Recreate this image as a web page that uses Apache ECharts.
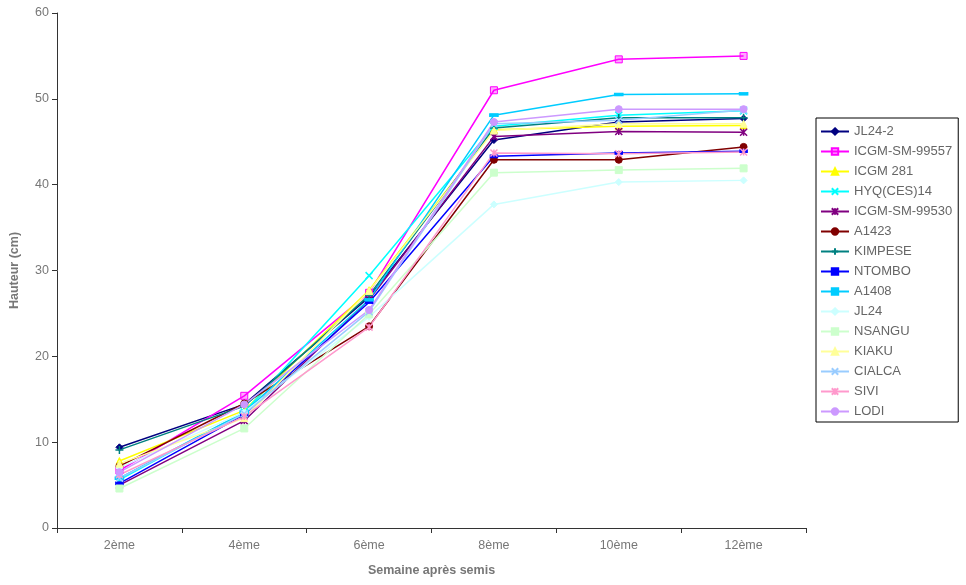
<!DOCTYPE html>
<html>
<head>
<meta charset="utf-8">
<script src="https://cdn.jsdelivr.net/npm/echarts@6/dist/echarts.min.js"></script>
<style>html,body{margin:0;padding:0;background:#fff}#c{width:966px;height:585px}</style>
</head>
<body>
<div id="c"></div>
<script>
const categories = ['2ème','4ème','6ème','8ème','10ème','12ème'];
const seriesNames = ['JL24-2','ICGM-SM-99557','ICGM 281','HYQ(CES)14','ICGM-SM-99530','A1423','KIMPESE','NTOMBO','A1408','JL24','NSANGU','KIAKU','CIALCA','SIVI','LODI'];
const JL24_2 = [9.4, 14.4, 26.9, 45.2, 47.3, 47.7];
const ICGM_SM_99557 = [6.7, 15.4, 27.4, 51.0, 54.6, 55.0];
const ICGM_281 = [7.8, 13.7, 27.7, 46.4, 46.8, 46.9];
const HYQ_CES_14 = [5.6, 13.5, 29.4, 46.8, 48.1, 48.6];
const ICGM_SM_99530 = [5.0, 12.5, 26.6, 45.6, 46.2, 46.1];
const A1423 = [7.2, 14.5, 23.5, 42.9, 42.9, 44.4];
const KIMPESE = [9.1, 14.2, 27.1, 46.6, 47.8, 47.8];
const NTOMBO = [5.2, 13.2, 26.3, 43.3, 43.7, 43.9];
const A1408 = [5.8, 13.5, 26.6, 48.1, 50.5, 50.6];
const JL24 = [7.0, 13.5, 24.6, 37.7, 40.3, 40.5];
const NSANGU = [4.6, 11.6, 24.9, 41.4, 41.7, 41.9];
const KIAKU = [7.5, 12.8, 27.6, 46.3, 47.1, 47.1];
const CIALCA = [5.8, 13.3, 25.2, 47.1, 47.5, 48.7];
const SIVI = [6.2, 13.0, 23.4, 43.7, 43.6, 43.8];
const LODI = [6.5, 14.4, 25.4, 47.3, 48.8, 48.8];
const yTicks = [0, 10, 20, 30, 40, 50, 60];

const values = [JL24_2, ICGM_SM_99557, ICGM_281, HYQ_CES_14, ICGM_SM_99530, A1423, KIMPESE, NTOMBO, A1408, JL24, NSANGU, KIAKU, CIALCA, SIVI, LODI];
const colors = ['#000080','#FF00FF','#FFFF00','#00FFFF','#800080','#800000','#008080','#0000FF','#00CCFF','#CCFFFF','#CCFFCC','#FFFF99','#99CCFF','#FF99CC','#CC99FF'];
const X = 'path://M0,0L10,10M10,0L0,10';
const STAR = 'path://M0,0L10,10M10,0L0,10M5,0L5,10';
const PLUS = 'path://M5,0L5,10M0,5L10,5';
const symbols = ['diamond','rect','triangle',X,STAR,'circle',PLUS,'rect','rect','diamond','rect','triangle',X,STAR,'circle'];
const sizes = [7,7,7,7,7,7,8,[7,3],[8,3],7,7,7,7,7,7];
const stroked = [false,false,false,true,true,false,true,false,false,false,false,false,true,true,false];
const hollowish = [false,true,false,false,false,false,false,false,false,false,false,false,false,false,false];

const series = seriesNames.map((n, i) => ({
  name: n,
  type: 'line',
  data: values[i],
  symbol: symbols[i],
  symbolSize: sizes[i],
  showAllSymbol: true,
  lineStyle: { color: colors[i], width: 1.5 },
  itemStyle: {
    color: stroked[i] ? 'rgba(0,0,0,0)' : (hollowish[i] ? 'rgba(255,0,255,0.35)' : colors[i]),
    borderColor: colors[i],
    borderWidth: stroked[i] ? 1.5 : 1
  },
  emphasis: { disabled: true },
  animation: false
}));

const font = 'Liberation Sans, Arial';
const chart = echarts.init(document.getElementById('c'), null, { renderer: 'canvas' });
chart.setOption({
  backgroundColor: '#fff',
  animation: false,
  color: colors,
  grid: { left: 55, right: 160, top: 13, bottom: 57, containLabel: false },
  xAxis: {
    type: 'category',
    data: categories,
    boundaryGap: true,
    name: 'Semaine après semis',
    nameLocation: 'middle',
    nameGap: 36,
    nameTextStyle: { fontFamily: font, fontSize: 12.5, fontWeight: 'bold', color: '#777' },
    axisLine: { lineStyle: { color: '#333', width: 1 } },
    axisTick: { show: true, alignWithLabel: false, length: 5, inside: false, lineStyle: { color: '#333' } },
    axisLabel: { fontFamily: font, fontSize: 12.5, color: '#777', margin: 11 },
    splitLine: { show: false }
  },
  yAxis: {
    type: 'value',
    min: 0, max: 60, interval: 10,
    name: 'Hauteur (cm)',
    nameLocation: 'middle',
    nameGap: 36,
    nameRotate: 90,
    nameTextStyle: { fontFamily: font, fontSize: 12.5, fontWeight: 'bold', color: '#777' },
    axisLine: { show: true, lineStyle: { color: '#333', width: 1 } },
    axisTick: { show: true, length: 5, lineStyle: { color: '#333' } },
    axisLabel: { fontFamily: font, fontSize: 12.5, color: '#777', margin: 8,
      formatter: v => yTicks.includes(v) ? String(v) : '' },
    splitLine: { show: false }
  },
  legend: {
    orient: 'vertical',
    left: 816,
    top: 118,
    width: 142,
    padding: [6, 6, 3, 4],
    itemWidth: 28,
    itemHeight: 8,
    itemGap: 5,
    borderColor: '#000',
    borderWidth: 1,
    borderRadius: 0,
    backgroundColor: '#fff',
    textStyle: { fontFamily: font, fontSize: 13, color: '#666', lineHeight: 15 },
    data: seriesNames
  },
  series: series
});
</script>
</body>
</html>
